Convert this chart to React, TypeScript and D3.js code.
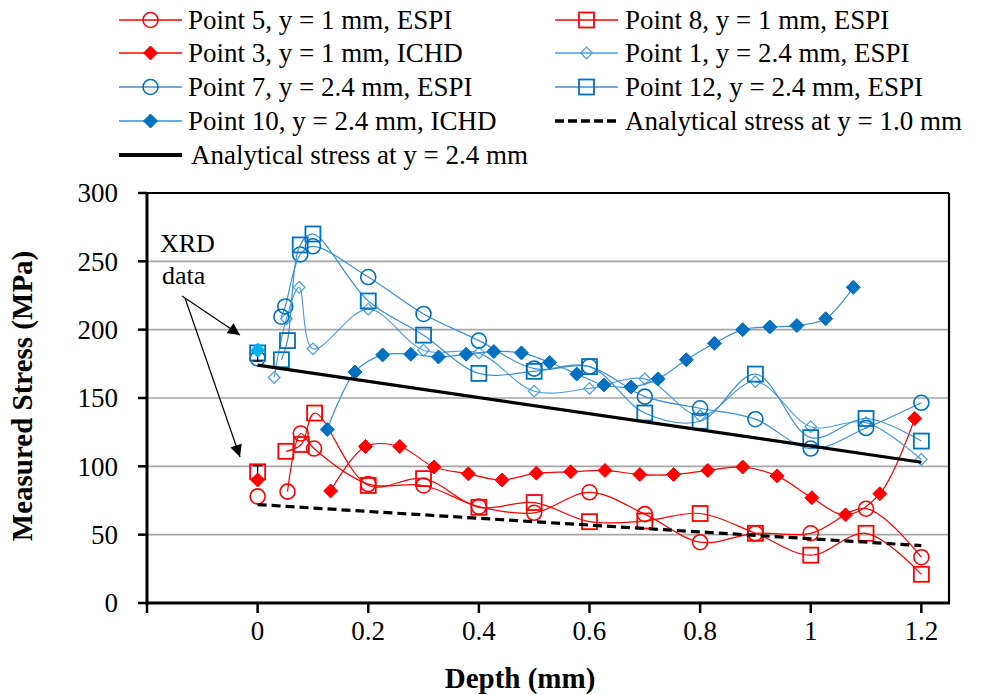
import React from "react";
import * as d3 from "d3";

// ---------- data ----------
const p5Depth = [0.054, 0.078, 0.102, 0.2, 0.3, 0.4, 0.5, 0.6, 0.7, 0.8, 0.9, 1.0, 1.1, 1.2];
const p5Stress = [81.5, 124, 113, 87, 86, 70.5, 66, 81, 65, 44.5, 51, 51, 69, 33.5];
const p8Depth = [0.051, 0.079, 0.103, 0.2, 0.3, 0.4, 0.5, 0.6, 0.7, 0.8, 0.9, 1.0, 1.1, 1.2];
const p8Stress = [111, 116, 139, 86, 91, 70, 73.5, 59.5, 60, 65.5, 51, 35, 51, 21];
const p3Depth = [0.132, 0.195, 0.257, 0.319, 0.381, 0.442, 0.504, 0.566, 0.628, 0.691, 0.752, 0.814, 0.877, 0.939, 1.002, 1.063, 1.125, 1.188];
const p3Stress = [82, 114.5, 114.5, 99.5, 94.5, 90, 95, 96, 97, 94, 94, 97, 99.5, 93, 77, 64.5, 80, 135];
const p1Depth = [0.03, 0.052, 0.075, 0.1, 0.2, 0.3, 0.4, 0.5, 0.6, 0.7, 0.8, 0.9, 1.0, 1.1, 1.2];
const p1Stress = [165, 208, 231, 186, 215, 185, 183, 155, 157, 164, 137, 162, 129, 132, 105];
const p7Depth = [0.043, 0.05, 0.077, 0.1, 0.2, 0.3, 0.4, 0.5, 0.6, 0.7, 0.8, 0.9, 1.0, 1.1, 1.2];
const p7Stress = [209.5, 217, 255, 261, 238.5, 211.5, 192, 171.5, 173, 151, 142.5, 134.5, 113, 128, 146.5];
const p12Depth = [0.043, 0.054, 0.077, 0.1, 0.2, 0.3, 0.4, 0.5, 0.6, 0.7, 0.8, 0.9, 1.0, 1.1, 1.2];
const p12Stress = [178, 192, 262, 270, 221, 196, 168, 169.5, 173, 139, 133, 167.5, 121, 135, 118.5];
const p10Depth = [0.126, 0.176, 0.226, 0.277, 0.327, 0.377, 0.427, 0.477, 0.528, 0.577, 0.626, 0.675, 0.724, 0.775, 0.826, 0.877, 0.926, 0.975, 1.027, 1.077];
const p10Stress = [127, 169, 181.5, 182, 180, 182, 184, 183, 176, 167.5, 159.5, 158, 164, 178, 190, 200, 202, 203, 208, 231];

const analyticDepth = [0, 1.2];
const analytic10 = [72, 42];
const analytic24 = [174, 103];

// XRD surface values (depth 0)
const xrdP5 = 78;
const xrdP8 = 96;
const xrdP3 = 90;
const xrdP7 = 179;
const xrdP12 = 183;
const xrdP10 = 185;
const xrdRedErr = [91.5, 100.5];
const xrdBlueErr = [177, 183];

const xTicks = [-0.2, 0, 0.2, 0.4, 0.6, 0.8, 1.0, 1.2];
const yTicks = [0, 50, 100, 150, 200, 250, 300];

const legendLabels = [
  "Point 5, y = 1 mm, ESPI",
  "Point 8, y = 1 mm, ESPI",
  "Point 3, y = 1 mm, ICHD",
  "Point 1, y = 2.4 mm, ESPI",
  "Point 7, y = 2.4 mm, ESPI",
  "Point 12, y = 2.4 mm, ESPI",
  "Point 10, y = 2.4 mm, ICHD",
  "Analytical stress at y = 1.0 mm",
  "Analytical stress at y = 2.4 mm",
];

// ---------- styles ----------
const RED = "#FF0000";
const BLUE = "#0070C0";
const BLUE_LINE = "#3D8FD8";
const BLUE_LIGHT = "#4A9BE2";
const CYAN = "#00B0F0";
const FONT = "'Liberation Serif', 'Times New Roman', serif";

const W = 982;
const H = 695;
const L = 147, R = 949, T = 193, B = 603;

const x = d3.scaleLinear().domain([-0.2, 1.25]).range([L, R]);
const y = d3.scaleLinear().domain([0, 300]).range([B, T]);

type Shape = "circle" | "square" | "diamond" | "odiamond";

function Marker({ shape, cx, cy, color, fill }: { shape: Shape; cx: number; cy: number; color: string; fill?: string }) {
  if (shape === "circle")
    return <circle cx={cx} cy={cy} r={7.5} fill="none" stroke={color} strokeWidth={1.6} />;
  if (shape === "square")
    return <rect x={cx - 7.5} y={cy - 7.5} width={15} height={15} fill="none" stroke={color} strokeWidth={1.8} />;
  if (shape === "diamond") {
    const r = 7;
    return <path d={`M${cx},${cy - r}L${cx + r},${cy}L${cx},${cy + r}L${cx - r},${cy}Z`} fill={fill || color} stroke={fill || color} strokeWidth={1} />;
  }
  const r = 5.8;
  return <path d={`M${cx},${cy - r}L${cx + r},${cy}L${cx},${cy + r}L${cx - r},${cy}Z`} fill="none" stroke={color} strokeWidth={1.2} />;
}

const smooth = d3
  .line<[number, number]>()
  .x((d) => x(d[0]))
  .y((d) => y(d[1]))
  .curve(d3.curveCatmullRom.alpha(0.5));

const straight = d3
  .line<[number, number]>()
  .x((d) => x(d[0]))
  .y((d) => y(d[1]));

function zip(a: number[], b: number[]): [number, number][] {
  return a.map((v, i) => [v, b[i]] as [number, number]);
}

type Series = { depth: number[]; stress: number[]; shape: Shape; line: string; mark: string; lw: number };

const series: Series[] = [
  { depth: p5Depth, stress: p5Stress, shape: "circle", line: RED, mark: RED, lw: 1.2 },
  { depth: p8Depth, stress: p8Stress, shape: "square", line: RED, mark: RED, lw: 1.2 },
  { depth: p3Depth, stress: p3Stress, shape: "diamond", line: RED, mark: RED, lw: 1.2 },
  { depth: p1Depth, stress: p1Stress, shape: "odiamond", line: BLUE_LIGHT, mark: BLUE_LIGHT, lw: 1.1 },
  { depth: p7Depth, stress: p7Stress, shape: "circle", line: BLUE_LINE, mark: BLUE, lw: 1.2 },
  { depth: p12Depth, stress: p12Stress, shape: "square", line: BLUE_LINE, mark: BLUE, lw: 1.2 },
  { depth: p10Depth, stress: p10Stress, shape: "diamond", line: BLUE_LINE, mark: BLUE, lw: 1.2 },
];

function ErrBar({ lo, hi }: { lo: number; hi: number }) {
  const cx = x(0);
  return (
    <g stroke="#000" strokeWidth={1.3}>
      <line x1={cx} x2={cx} y1={y(lo)} y2={y(hi)} />
      <line x1={cx - 5} x2={cx + 5} y1={y(lo)} y2={y(lo)} />
      <line x1={cx - 5} x2={cx + 5} y1={y(hi)} y2={y(hi)} />
    </g>
  );
}

function Legend() {
  const rows = [20, 53, 87, 121, 155];
  const c1 = { l0: 119, l1: 182, t: 188 };
  const c2 = { l0: 555, l1: 618, t: 625 };
  const items: { col: typeof c1; row: number; label: string; kind: string; shape?: Shape; line?: string; mark?: string }[] = [
    { col: c1, row: 0, label: legendLabels[0], kind: "s", shape: "circle", line: RED, mark: RED },
    { col: c2, row: 0, label: legendLabels[1], kind: "s", shape: "square", line: RED, mark: RED },
    { col: c1, row: 1, label: legendLabels[2], kind: "s", shape: "diamond", line: RED, mark: RED },
    { col: c2, row: 1, label: legendLabels[3], kind: "s", shape: "odiamond", line: BLUE_LIGHT, mark: BLUE_LIGHT },
    { col: c1, row: 2, label: legendLabels[4], kind: "s", shape: "circle", line: BLUE_LINE, mark: BLUE },
    { col: c2, row: 2, label: legendLabels[5], kind: "s", shape: "square", line: BLUE_LINE, mark: BLUE },
    { col: c1, row: 3, label: legendLabels[6], kind: "s", shape: "diamond", line: BLUE_LINE, mark: BLUE },
    { col: c2, row: 3, label: legendLabels[7], kind: "dash" },
    { col: c1, row: 4, label: legendLabels[8], kind: "solid" },
  ];
  return (
    <g>
      {items.map((it, i) => {
        const cy = rows[it.row];
        const mid = (it.col.l0 + it.col.l1) / 2;
        const tx = it.kind === "solid" ? 191 : it.col.t;
        return (
          <g key={i}>
            {it.kind === "s" && (
              <>
                <line x1={it.col.l0} x2={it.col.l1} y1={cy} y2={cy} stroke={it.line} strokeWidth={1.5} />
                <Marker shape={it.shape!} cx={mid} cy={cy} color={it.mark!} />
              </>
            )}
            {it.kind === "dash" && (
              <line x1={it.col.l0} x2={it.col.l1} y1={cy} y2={cy} stroke="#000" strokeWidth={3.5} strokeDasharray="9,4" />
            )}
            {it.kind === "solid" && (
              <line x1={it.col.l0} x2={it.col.l1} y1={cy} y2={cy} stroke="#000" strokeWidth={4} />
            )}
            <text x={tx} y={cy + 9} fontSize={27} fontFamily={FONT} fill="#000">
              {it.label}
            </text>
          </g>
        );
      })}
    </g>
  );
}

export default function App() {
  return (
    <svg width={W} height={H} style={{ position: "absolute", left: 0, top: 0, background: "#fff" }} xmlns="http://www.w3.org/2000/svg">
      <defs>
        <marker id="arr" viewBox="0 0 10 10" refX="10" refY="5" markerWidth="16" markerHeight="12" markerUnits="userSpaceOnUse" orient="auto">
          <path d="M0,0L10,5L0,10Z" fill="#000" />
        </marker>
      </defs>
      <rect width={W} height={H} fill="#fff" />
      <Legend />

      {/* gridlines */}
      {yTicks.filter((t) => t > 0 && t < 300).map((t) => (
        <line key={t} x1={L} x2={R} y1={y(t)} y2={y(t)} stroke="#A6A6A6" strokeWidth={1.6} />
      ))}

      {/* series */}
      {series.map((s, i) => (
        <g key={i}>
          <path d={smooth(zip(s.depth, s.stress)) || ""} fill="none" stroke={s.line} strokeWidth={s.lw} />
          {s.depth.map((d, j) => (
            <Marker key={j} shape={s.shape} cx={x(d)} cy={y(s.stress[j])} color={s.mark} />
          ))}
        </g>
      ))}

      {/* XRD points */}
      <Marker shape="circle" cx={x(0)} cy={y(xrdP5)} color={RED} />
      <Marker shape="square" cx={x(0)} cy={y(xrdP8)} color={RED} />
      <ErrBar lo={xrdRedErr[0]} hi={xrdRedErr[1]} />
      <Marker shape="diamond" cx={x(0)} cy={y(xrdP3)} color={RED} />
      <Marker shape="circle" cx={x(0)} cy={y(xrdP7)} color={BLUE} />
      <Marker shape="square" cx={x(0)} cy={y(xrdP12)} color={BLUE} />
      <ErrBar lo={xrdBlueErr[0]} hi={xrdBlueErr[1]} />
      <Marker shape="diamond" cx={x(0)} cy={y(xrdP10)} color={CYAN} fill={CYAN} />

      {/* analytical */}
      <path d={straight(zip(analyticDepth, analytic10)) || ""} fill="none" stroke="#000" strokeWidth={3.2} strokeDasharray="9,5" />
      <path d={straight(zip(analyticDepth, analytic24)) || ""} fill="none" stroke="#000" strokeWidth={3.2} />

      {/* XRD annotation */}
      <text x={160} y={252} fontSize={26} fontFamily={FONT}>XRD</text>
      <text x={162} y={284} fontSize={26} fontFamily={FONT}>data</text>
      <line x1={182} y1={296} x2={240} y2={335} stroke="#000" strokeWidth={1.2} markerEnd="url(#arr)" />
      <line x1={185} y1={298} x2={240} y2={457} stroke="#000" strokeWidth={1.2} markerEnd="url(#arr)" />

      {/* frame */}
      <line x1={L} x2={R} y1={T} y2={T} stroke="#000" strokeWidth={2.2} />
      <line x1={R} x2={R} y1={T} y2={B} stroke="#000" strokeWidth={2.2} />
      <line x1={L} x2={L} y1={T - 1} y2={B + 1.5} stroke="#000" strokeWidth={3} />
      <line x1={L - 1.5} x2={R + 1} y1={B} y2={B} stroke="#000" strokeWidth={3} />

      {/* y ticks */}
      {yTicks.map((t) => (
        <g key={t}>
          <line x1={L - 9} x2={L} y1={y(t)} y2={y(t)} stroke="#000" strokeWidth={2.5} />
          <text x={118} y={y(t)} dy="0.35em" textAnchor="end" fontSize={27} fontFamily={FONT}>
            {t}
          </text>
        </g>
      ))}
      {/* x ticks */}
      {xTicks.map((t) => (
        <g key={t}>
          <line x1={x(t)} x2={x(t)} y1={B} y2={B + 10} stroke="#000" strokeWidth={2.5} />
          {t >= 0 && (
            <text x={x(t)} y={640} textAnchor="middle" fontSize={27} fontFamily={FONT}>
              {d3.format("~g")(t)}
            </text>
          )}
        </g>
      ))}

      <text x={520} y={688} textAnchor="middle" fontSize={29} fontWeight="bold" fontFamily={FONT}>
        Depth (mm)
      </text>
      <text transform="translate(32,396) rotate(-90)" textAnchor="middle" fontSize={29} fontWeight="bold" fontFamily={FONT}>
        Measured Stress (MPa)
      </text>
    </svg>
  );
}
